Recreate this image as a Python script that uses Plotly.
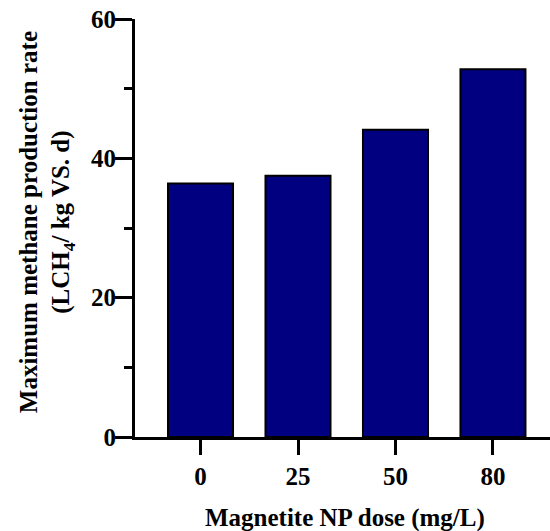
import plotly.graph_objects as go

categories = ["0", "25", "50", "80"]
values = [36.4, 37.5, 44.1, 52.8]
y_ticks = [0, 20, 40, 60]

FONT = "Liberation Serif"

fig = go.Figure()
fig.add_trace(go.Bar(
    x=list(range(len(categories))), y=values, width=0.667,
    marker=dict(color="#000080", line=dict(color="black", width=2)),
))

fig.update_layout(
    width=550, height=531,
    margin=dict(l=135, r=0, t=19, b=94),
    plot_bgcolor="white", paper_bgcolor="white",
    showlegend=False,
    font=dict(family=FONT, size=25, color="black", weight="bold"),
    annotations=[
        dict(text="Maximum methane production rate<br>(LCH<sub>4</sub>/ kg VS. d)",
             xref="paper", yref="paper", x=-0.212, y=0.514,
             xanchor="center", yanchor="middle", textangle=-90, showarrow=False,
             font=dict(family=FONT, size=25, color="black", weight="bold")),
        dict(text="Magnetite NP dose (mg/L)",
             xref="paper", yref="paper", x=0.507, y=-0.194,
             xanchor="center", yanchor="middle", showarrow=False,
             font=dict(family=FONT, size=25, color="black", weight="bold")),
    ],
)
fig.update_xaxes(
    range=[-0.672, 3.585], tickmode="array",
    tickvals=list(range(len(categories))), ticktext=categories,
    showline=True, linecolor="black", linewidth=3,
    ticks="outside", ticklen=15, tickwidth=3, tickcolor="black",
    showgrid=False, zeroline=False,
)
fig.update_yaxes(
    range=[0, 60], tickmode="array", tickvals=y_ticks,
    showline=True, linecolor="black", linewidth=3,
    ticks="outside", ticklen=17, tickwidth=3, tickcolor="black",
    ticklabelstandoff=-6,
    minor=dict(dtick=10, ticklen=8, tickwidth=3, tickcolor="black", ticks="outside"),
    showgrid=False, zeroline=False,
)
fig.write_html("out.html", config={"displayModeBar": False},
               post_script="document.body.style.margin='0';document.body.style.padding='0';")
